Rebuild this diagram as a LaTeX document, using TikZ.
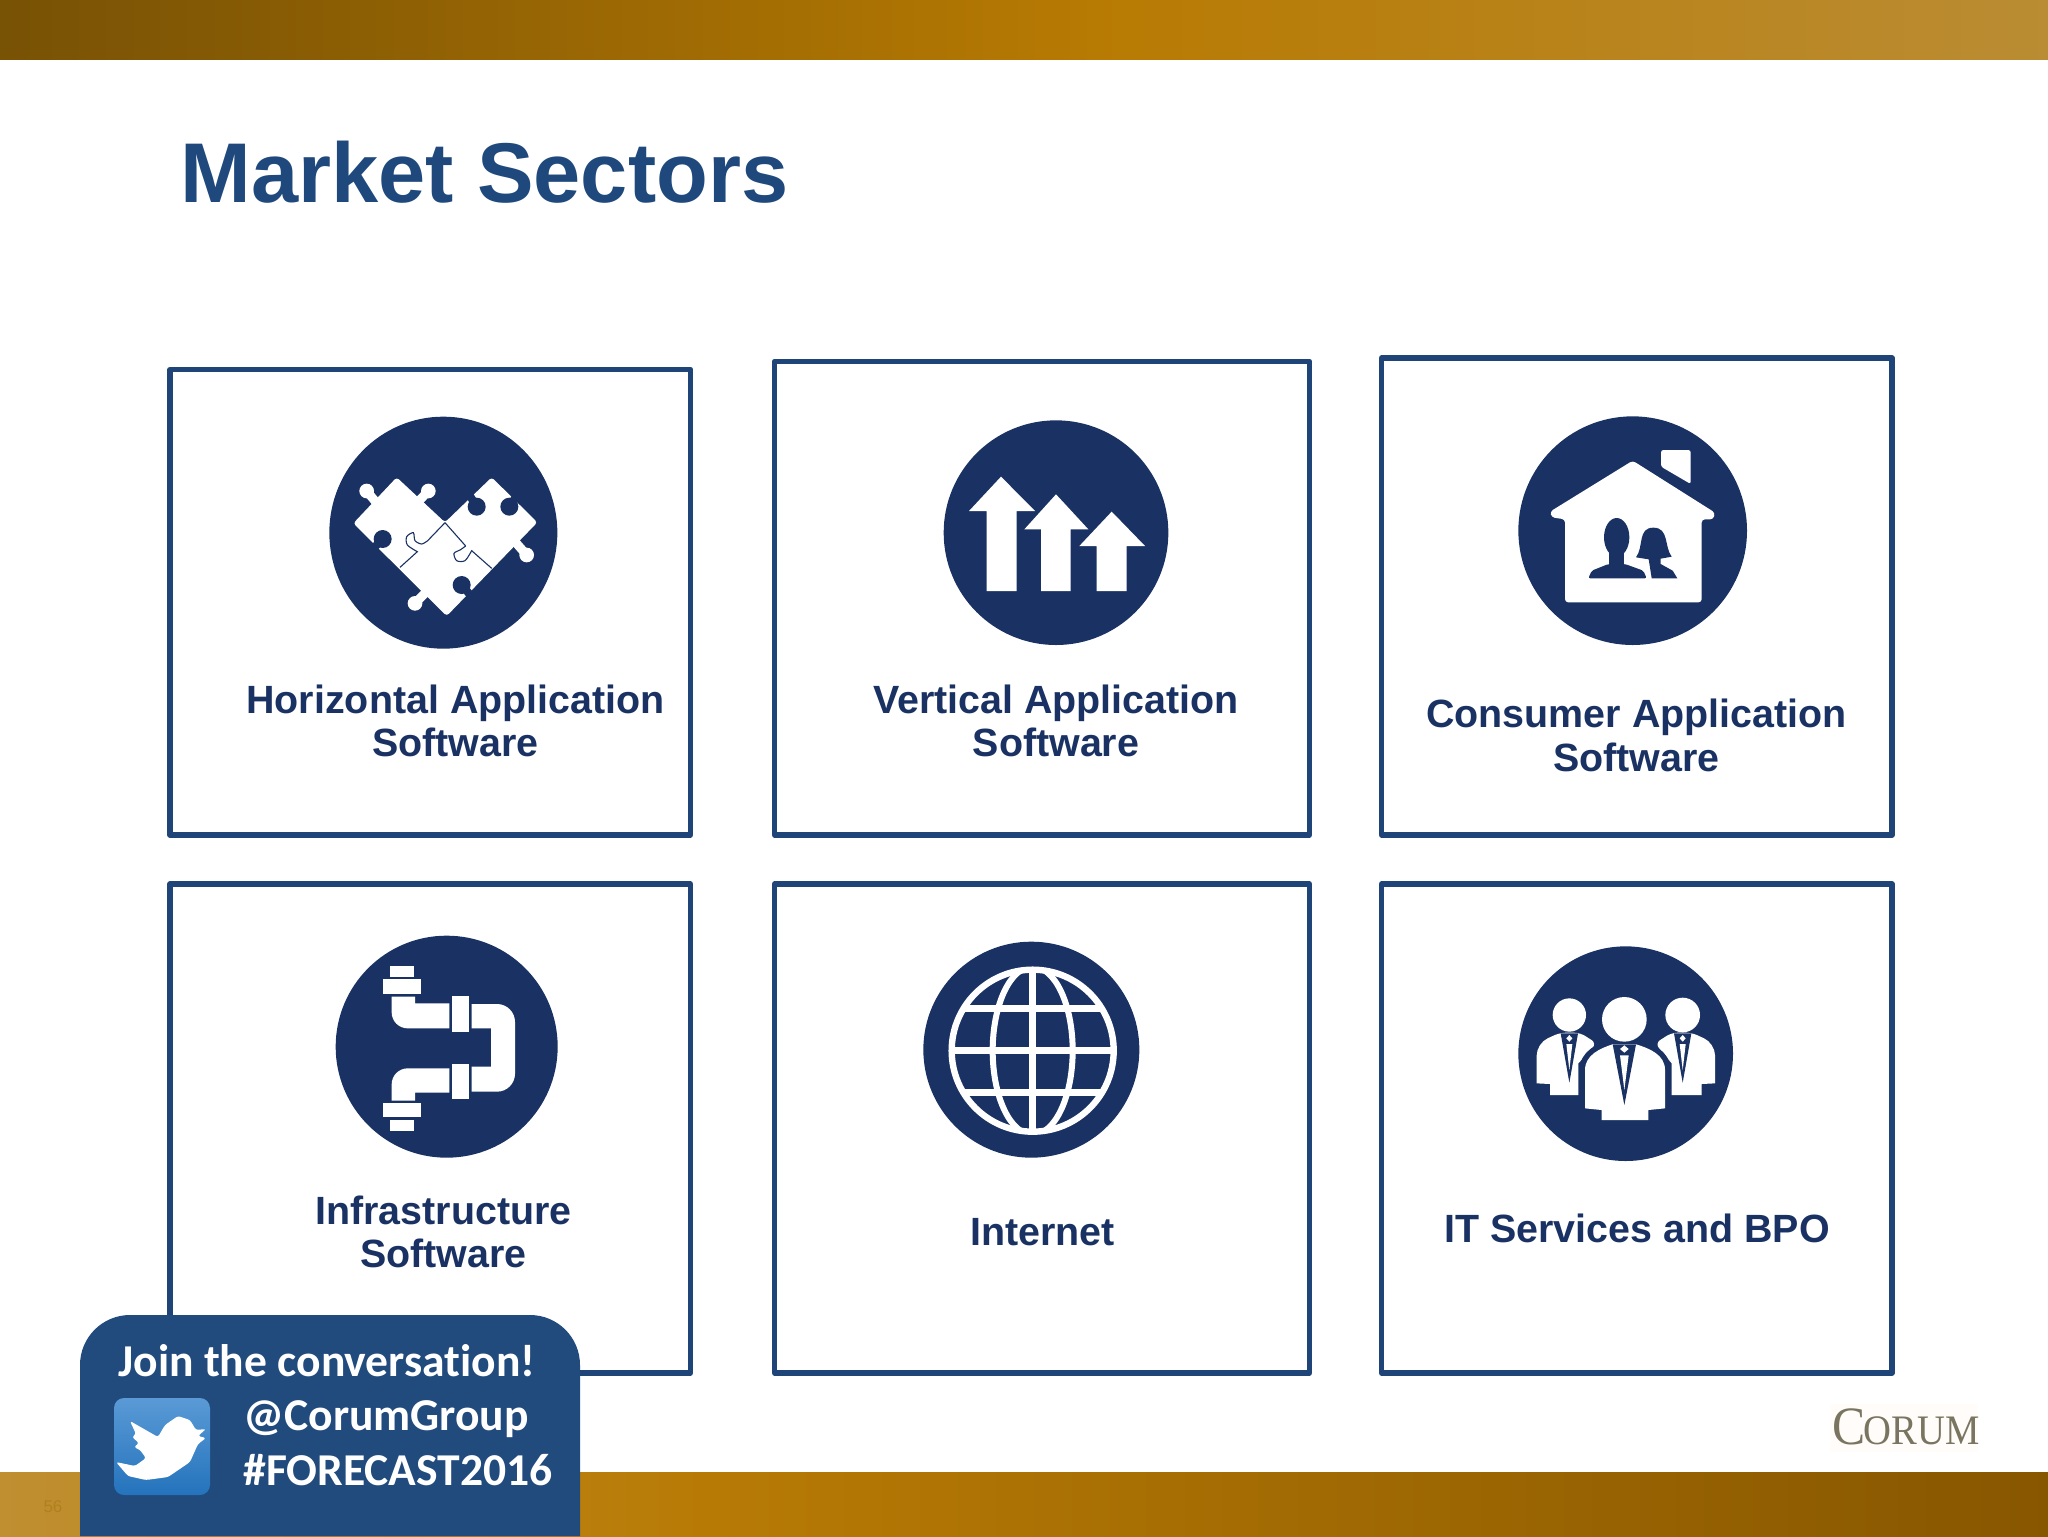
\documentclass[tikz,border=0pt]{standalone}
\usepackage{fontspec}
\setmainfont{Liberation Sans}
\newfontfamily\calloutfont[Ligatures=NoCommon]{Carlito}
\newfontfamily\logofont{Liberation Serif}
\definecolor{titleblue}{HTML}{1F497D}
\definecolor{boxblue}{HTML}{1F4578}
\definecolor{navy}{HTML}{1A3263}
\definecolor{calloutblue}{HTML}{214A7D}
\definecolor{twA}{HTML}{5A9AD6}
\definecolor{twB}{HTML}{2473BC}
\definecolor{logogray}{HTML}{7A7560}
\definecolor{pagenum}{HTML}{B0801F}
\pgfdeclarehorizontalshading{topbarshade}{100bp}{rgb(0bp)=(.47,.32,.02);
  rgb(25bp)=(.47,.32,.02); rgb(52bp)=(.72,.48,.01); rgb(75bp)=(.73,.55,.20); rgb(100bp)=(.73,.55,.20)}
\pgfdeclarehorizontalshading{botbarshade}{100bp}{rgb(0bp)=(.75,.56,.19);
  rgb(25bp)=(.75,.56,.19); rgb(42bp)=(.72,.48,.02); rgb(75bp)=(.53,.34,.0); rgb(100bp)=(.53,.34,.0)}
\tikzset{
  sectorbox/.style={draw=boxblue,line width=2.7pt,fill=white,line join=round},
  sectorlabel/.style={font=\fontsize{19.7}{21.6}\selectfont\bfseries,text=navy,align=center,inner sep=0pt},
  callouttext/.style={font=\calloutfont\fontsize{22.8}{25}\selectfont\bfseries,text=white,anchor=base west,inner sep=0pt},
  zoomat/.style 2 args={shift={(#1*0.5pt,-#2*0.5pt)},x=0.166667pt,y=-0.166667pt},
  icondisc/.style={fill=navy},
  iconwhite/.style={fill=white},
}
\begin{document}
\begin{tikzpicture}[x=0.5pt,y=-0.5pt]
\useasboundingbox (0,0) rectangle (2048,1536);
\fill[white] (0,0) rectangle (2048,1536);
% bars
\shade[shading=topbarshade] (0,0) rectangle (2048,60);
\shade[shading=botbarshade] (0,1472) rectangle (2048,1536);
% title
\node[font=\fontsize{42.4}{46}\selectfont\bfseries,text=titleblue,anchor=base west,inner sep=0pt] (title) at (180,202) {Market Sectors};
% boxes
\draw[sectorbox] (170,369.5) rectangle (690.5,835);
\draw[sectorbox] (774.5,361.5) rectangle (1309.5,835);
\draw[sectorbox] (1381.5,358) rectangle (1892,835);
\draw[sectorbox] (170,884) rectangle (690.5,1373);
\draw[sectorbox] (774.5,884) rectangle (1309.5,1373);
\draw[sectorbox] (1381.5,884) rectangle (1892,1373);
% labels
\node[sectorlabel] (l1) at (455.5,721) {Horizontal Application\\Software};
\node[sectorlabel] (l2) at (1056,721) {Vertical Application\\Software};
\node[sectorlabel] (l3) at (1636.5,735.5) {Consumer Application\\Software};
\node[sectorlabel] (l4) at (443.5,1232) {Infrastructure\\Software};
\node[sectorlabel] (l5) at (1042.5,1232) {Internet};
\node[sectorlabel] (l6) at (1637,1228) {IT Services and BPO};
% puzzle icon
\begin{scope}[zoomat={300}{390}]
\fill[icondisc] (430,428) ellipse [x radius=342,y radius=348];
\fill[iconwhite,rounded corners=1.5pt] (160,400) -- (290,262) -- (435,397) -- (575,262) -- (712,397) -- (440,678) -- cycle;
\foreach \ax/\ay/\bx/\by in {200/303/235/345,385/303/350/340,680/495/645/455,345/640/385/600}{
  \draw[white,line width=4.5pt] (\ax,\ay) -- (\bx,\by);
  \fill[white] (\ax,\ay) circle [radius=22];
}
\foreach \ax/\ay/\bx/\by in {248/447/215/480,530/350/505/310,628/350/655/310,485/585/515/620}{
  \draw[navy,line width=4pt] (\ax,\ay) -- (\bx,\by);
  \fill[navy] (\ax,\ay) circle [radius=27];
}
\draw[navy,line width=0.55pt] (435,398) -- (383,452) plot[smooth] coordinates {(383,452) (365,462) (345,452) (340,428) (320,440) (322,465) (352,485)} -- (300,532);
\draw[navy,line width=0.55pt] (435,398) -- (497,468) plot[smooth] coordinates {(497,468) (480,480) (462,490) (470,512) (495,512) (515,482)} -- (575,535);
\end{scope}
% arrows icon
\begin{scope}[zoomat={920}{400}]
\fill[icondisc] (408,398) circle [radius=337];
\fill[iconwhite] (243,230) -- (345,333) -- (290,333) -- (290,573) -- (200,573) -- (200,333) -- (147,333) -- cycle;
\fill[iconwhite] (408,283) -- (505,388) -- (452,388) -- (452,573) -- (363,573) -- (363,388) -- (313,388) -- cycle;
\fill[iconwhite] (575,335) -- (675,438) -- (620,438) -- (620,573) -- (530,573) -- (530,438) -- (478,438) -- cycle;
\end{scope}
% house icon
\begin{scope}[zoomat={1500}{400}]
\fill[icondisc] (398,392) circle [radius=343];
\fill[iconwhite,rounded corners=1.6pt] (398,182) -- (645,338) -- (640,358) -- (605,358) -- (605,607) -- (195,607) -- (195,358) -- (155,352) -- (150,335) -- cycle;
\fill[iconwhite,rounded corners=1.2pt] (483,150) -- (572,150) -- (572,252) -- (483,200) -- cycle;
\fill[navy] (350,412) ellipse [x radius=38,y radius=58];
\fill[navy] (328,455) rectangle (372,500);
\fill[navy,rounded corners=1pt] (265,535) -- (275,512) -- (325,492) -- (375,492) -- (430,512) -- (440,535) -- cycle;
\fill[navy] (460,383) .. controls (412,383) and (432,440) .. (408,472) -- (446,478) -- (455,535) -- (532,535) -- (518,512) -- (482,492) -- (482,476) -- (515,470) .. controls (492,440) and (508,383) .. (460,383) -- cycle;
\end{scope}
% pipes icon
\begin{scope}[zoomat={320}{920}]
\fill[icondisc] (380,380) circle [radius=333];
\fill[iconwhite] (210,138) rectangle (282,172);
\fill[iconwhite] (190,178) rectangle (302,222);
\fill[iconwhite] (215,230) [rounded corners=8pt] -- (215,325) [sharp corners] -- (388,325) -- (388,250) -- (285,250) -- (285,230) -- cycle;
\fill[iconwhite] (395,228) rectangle (448,335);
\fill[iconwhite] (455,252) [rounded corners=9pt] -- (585,252) -- (585,515) [sharp corners] -- (455,515) -- (455,440) -- (513,440) -- (513,325) -- (455,325) -- cycle;
\fill[iconwhite] (395,432) rectangle (448,538);
\fill[iconwhite] (388,445) [rounded corners=8pt] -- (215,445) [sharp corners] -- (215,542) -- (285,542) -- (285,518) -- (388,518) -- cycle;
\fill[iconwhite] (190,550) rectangle (302,592);
\fill[iconwhite] (210,600) rectangle (282,632);
\end{scope}
% globe icon
\begin{scope}[zoomat={900}{920}]
\fill[icondisc] (394,389) circle [radius=324];
\begin{scope}
\clip (398,392) circle [radius=250];
\draw[white,line width=3.8pt] (398,130) -- (398,650);
\draw[white,line width=3.8pt] (140,392) -- (650,392);
\draw[white,line width=3.2pt] (140,265) -- (650,265);
\draw[white,line width=3.2pt] (140,518) -- (650,518);
\draw[white,line width=3pt] (398,392) ellipse [x radius=120,y radius=252];
\end{scope}
\draw[white,line width=3.2pt] (398,392) circle [radius=243];
\end{scope}
% people icon
\begin{scope}[zoomat={1500}{930}]
\fill[icondisc] (377,371) circle [radius=322];
% side bodies
\fill[iconwhite] (110,460) [rounded corners=6pt] -- (110,340) [rounded corners=3pt] -- (180,308) -- (240,308) -- (290,340) [sharp corners] -- (235,400) -- (235,495) -- (150,495) -- (150,462) -- cycle;
\fill[iconwhite] (645,460) [rounded corners=6pt] -- (645,340) [rounded corners=3pt] -- (575,308) -- (515,308) -- (465,340) [sharp corners] -- (515,400) -- (515,495) -- (605,495) -- (605,462) -- cycle;
% heads
\fill[iconwhite] (208,255) circle [radius=50];
\fill[iconwhite] (548,255) circle [radius=52];
% side ties
\foreach \cx in {208,548}{
  \fill[navy] (\cx-26,310) -- (\cx+26,310) -- (\cx,458) -- cycle;
  \fill[white] (\cx-9,325) -- (\cx,315) -- (\cx+9,325) -- (\cx,335) -- cycle;
  \fill[white] (\cx-9,342) -- (\cx+9,342) -- (\cx,420) -- cycle;
}
% centre body with dark halo
\draw[navy,line width=5.5pt,fill=navy,line join=round] (255,530) -- (255,420) .. controls (255,375) and (300,355) .. (340,342) -- (405,342) .. controls (450,355) and (495,375) .. (495,420) -- (495,530) -- cycle;
\fill[iconwhite] (255,530) -- (255,420) .. controls (255,375) and (300,355) .. (340,342) -- (405,342) .. controls (450,355) and (495,375) .. (495,420) -- (495,535) -- (445,540) -- (445,570) -- (305,570) -- (305,540) -- (255,535) -- cycle;
\fill[iconwhite] (373,268) circle [radius=67];
\fill[navy] (338,343) -- (408,343) -- (373,525) -- cycle;
\fill[white] (360,357) -- (373,346) -- (386,357) -- (373,368) -- cycle;
\fill[white] (360,376) -- (386,376) -- (373,480) -- cycle;
\end{scope}
% corum logo
\fill[white!98!orange] (1830,1404) rectangle (1978,1452);
\node[font=\logofont,text=logogray,anchor=base west,inner sep=0pt] (logo) at (1832,1444) {\scalebox{0.92}[1]{\fontsize{27}{27}\selectfont C\kern-1pt\fontsize{21}{27}\selectfont ORUM}};
% page number
\node[font=\fontsize{8.5}{10}\selectfont,text=pagenum,anchor=center,inner sep=0pt] (pnum) at (53,1507) {56};
% callout
\fill[calloutblue] (80,1536) [rounded corners=25pt] -- (80,1315) -- (580,1315) [sharp corners] -- (580,1536) -- cycle;
\node[callouttext] (c1) at (118,1376) {Join the conversation!};
\node[callouttext] (c2) at (243,1430) {@CorumGroup};
\node[callouttext] (c3) at (243,1485) {\#FORECAST2016};
% twitter icon
\shade[top color=twA,bottom color=twB,rounded corners=5pt] (114,1398) rectangle (210,1495);
\fill[white,rounded corners=1.2pt] (130,1421) -- (158,1437) -- (165,1425) -- (178,1416) -- (190,1420) -- (196,1430) -- (206,1429) -- (198,1436) -- (206,1438) -- (198,1444) -- (190,1462) -- (168,1477) -- (146,1480) -- (128,1476) -- (116,1462) -- (135,1466) -- (146,1458) -- (140,1450) -- (134,1447) -- (139,1443) -- (132,1437) -- (136,1434) -- cycle;
\end{tikzpicture}
\end{document}
